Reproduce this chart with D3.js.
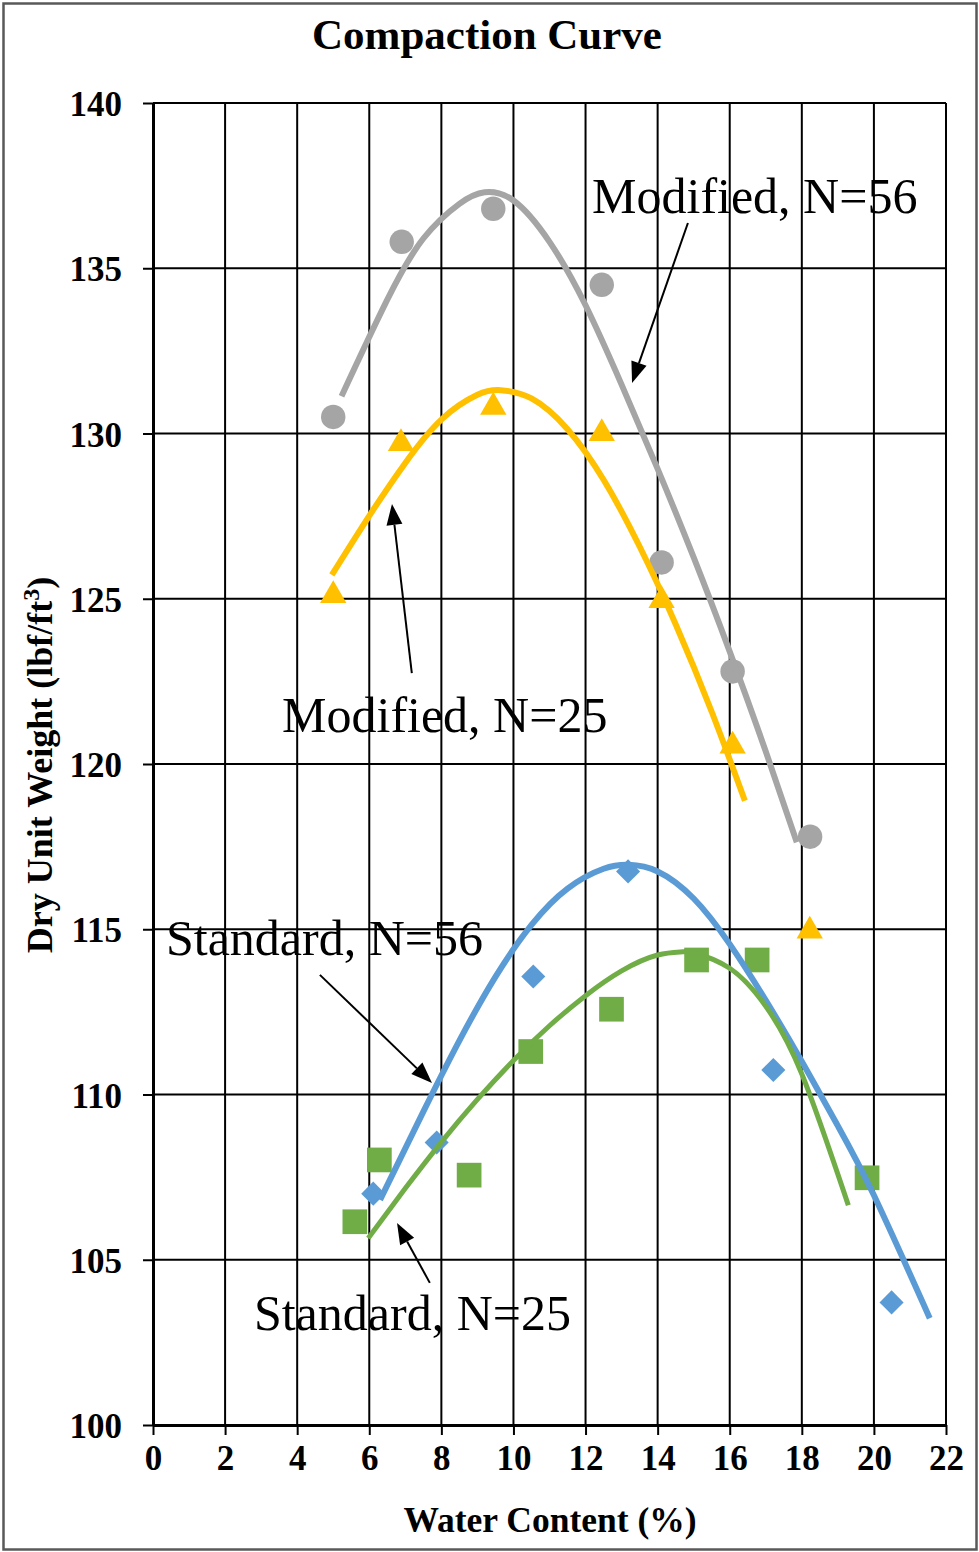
<!DOCTYPE html>
<html>
<head>
<meta charset="utf-8">
<script src="https://cdn.jsdelivr.net/npm/d3@7"></script>
<style>
  html, body { margin: 0; padding: 0; background: #fff; }
  svg { display: block; }
  text { font-family: "Liberation Serif", "Times New Roman", serif; fill: #000; }
</style>
</head>
<body>
<svg id="chart" width="979" height="1552"></svg>
<script>
// Axis ticks
const xTicks = [0, 2, 4, 6, 8, 10, 12, 14, 16, 18, 20, 22];
const yTicks = [100, 105, 110, 115, 120, 125, 130, 135, 140];

// Measured points: water content (%) and dry unit weight (lbf/ft3)
const modified56W = [5.0, 6.9, 9.44, 12.45, 14.11, 16.08, 18.23];
const modified56G = [130.5, 135.8, 136.8, 134.5, 126.1, 122.8, 117.8];

const modified25W = [5.0, 6.88, 9.44, 12.45, 14.11, 16.08, 18.22];
const modified25G = [125.1, 129.7, 130.8, 130.0, 124.95, 120.55, 114.95];

const standard56W = [6.11, 7.87, 10.55, 13.18, 17.21, 20.49];
const standard56G = [107.0, 108.55, 113.57, 116.75, 110.74, 103.71];

const standard25W = [5.6, 6.28, 8.77, 10.48, 12.72, 15.08, 16.76, 19.81];
const standard25G = [106.15, 108.02, 107.56, 111.3, 112.58, 114.07, 114.07, 107.48];

// Fitted compaction curves, sampled along each trend line
const fit56ModW = [5.23, 6.5, 7.5, 8.5, 9.2, 10, 11, 12, 13, 14, 15, 16, 17, 17.86];
const fit56ModG = [131.13, 134.05, 135.9, 136.95, 137.3, 137.05, 135.8, 133.88, 131.48, 128.93, 126.25, 123.4, 120.38, 117.63];

const fit25ModW = [4.96, 6, 7, 8, 9, 9.65, 10.5, 11.5, 12.5, 13.5, 14.5, 15.5, 16.42];
const fit25ModG = [125.72, 127.51, 129.11, 130.42, 131.17, 131.31, 131.06, 130.13, 128.6, 126.58, 124.23, 121.58, 118.89];

const fit56StdW = [6.3, 7.5, 8.5, 9.5, 10.5, 11.5, 12.5, 13.2, 14, 15, 16, 17, 18, 19, 20, 21.55];
const fit56StdG = [106.81, 109.48, 111.63, 113.56, 115.13, 116.23, 116.83, 116.95, 116.75, 115.93, 114.55, 112.85, 111.0, 109.05, 106.95, 103.23];

const fit25StdW = [5.97, 7, 8, 9, 10, 11, 12, 13, 14, 14.7, 15, 16, 17, 18, 19.29];
const fit25StdG = [105.65, 107.16, 108.56, 109.85, 111.03, 112.08, 112.99, 113.74, 114.22, 114.32, 114.29, 113.82, 112.67, 110.62, 106.65];

// Curve labels and their pointer arrows (data units)
const labelText = ["Modified, N=56", "Modified, N=25", "Standard, N=56", "Standard, N=25"];
const labelW = [12.18, 3.58, 0.36, 2.80];
const labelG = [136.67, 120.97, 114.22, 102.87];
const arrowFromW = [14.84, 7.18, 4.63, 7.68];
const arrowFromG = [136.37, 122.75, 113.62, 104.30];
const arrowToW = [13.29, 6.63, 7.74, 6.77];
const arrowToG = [131.53, 127.87, 110.35, 106.11];

const colors = { gray: "#A5A5A5", gold: "#FFC000", blue: "#5B9BD5", green: "#70AD47" };

const svg = d3.select("#chart");
const W = 979, H = 1552;

// Outer frame
svg.append("rect")
  .attr("x", 3.5).attr("y", 3.5).attr("width", W - 6).attr("height", H - 6)
  .attr("fill", "#fff").attr("stroke", "#595959").attr("stroke-width", 2.5);

const x = d3.scaleLinear().domain([0, 22]).range([153, 946]);
const y = d3.scaleLinear().domain([100, 140]).range([1425, 103]);

// Grid
const grid = svg.append("g");
grid.selectAll("line.v").data(xTicks).join("line")
  .attr("class", "v")
  .attr("x1", d => x(d)).attr("x2", d => x(d))
  .attr("y1", y(100)).attr("y2", y(140))
  .attr("stroke", "#000").attr("stroke-width", 2);
grid.selectAll("line.h").data(yTicks).join("line")
  .attr("class", "h")
  .attr("x1", x(0)).attr("x2", x(22))
  .attr("y1", d => y(d)).attr("y2", d => y(d))
  .attr("stroke", "#000").attr("stroke-width", 2);

// Markers
const zip = (a, b) => a.map((v, i) => [v, b[i]]);
function drawMarkers(ws, gs, type, size, color, rotate) {
  const sym = d3.symbol().type(type).size(size);
  svg.append("g").selectAll("path").data(zip(ws, gs)).join("path")
    .attr("d", sym)
    .attr("transform", d => `translate(${x(d[0])},${y(d[1])})` + (rotate ? ` rotate(${rotate})` : ""))
    .attr("fill", color);
}
drawMarkers(modified56W, modified56G, d3.symbolCircle, 470, colors.gray);
drawMarkers(modified25W, modified25G, d3.symbolTriangle, 300, colors.gold);
drawMarkers(standard56W, standard56G, d3.symbolSquare, 290, colors.blue, 45);
drawMarkers(standard25W, standard25G, d3.symbolSquare, 610, colors.green);

// Trend curves
const line = d3.line().x(d => x(d[0])).y(d => y(d[1])).curve(d3.curveNatural);
function drawCurve(ws, gs, color, width) {
  svg.append("path")
    .datum(zip(ws, gs))
    .attr("d", line)
    .attr("fill", "none")
    .attr("stroke", color)
    .attr("stroke-width", width);
}
drawCurve(fit56ModW, fit56ModG, colors.gray, 6);
drawCurve(fit25ModW, fit25ModG, colors.gold, 6);
drawCurve(fit56StdW, fit56StdG, colors.blue, 6);
drawCurve(fit25StdW, fit25StdG, colors.green, 5);

// Axes
const xAxis = d3.axisBottom(x).tickValues(xTicks).tickSize(10).tickSizeOuter(0).tickFormat(d3.format("d"));
const yAxis = d3.axisLeft(y).tickValues(yTicks).tickSize(10).tickSizeOuter(0).tickFormat(d3.format("d"));

const gx = svg.append("g").attr("transform", `translate(0,${y(100)})`).call(xAxis);
const gy = svg.append("g").attr("transform", `translate(${x(0)},0)`).call(yAxis);

[gx, gy].forEach(g => {
  g.select(".domain").attr("stroke", "#000").attr("stroke-width", 3);
  g.selectAll(".tick line").attr("stroke", "#000").attr("stroke-width", 2);
  g.selectAll(".tick text")
    .attr("font-family", "Liberation Serif, Times New Roman, serif")
    .attr("font-weight", "bold")
    .attr("font-size", 35)
    .attr("fill", "#000");
});
gx.selectAll(".tick text").attr("y", 20).attr("dy", "0.71em");
gy.selectAll(".tick text").attr("x", -31).attr("dy", "0.36em");

// Title
svg.append("text")
  .attr("x", 487).attr("y", 49)
  .attr("text-anchor", "middle")
  .attr("font-weight", "bold").attr("font-size", 43)
  .text("Compaction Curve");

// Axis titles
svg.append("text")
  .attr("x", 550).attr("y", 1532)
  .attr("text-anchor", "middle")
  .attr("font-weight", "bold").attr("font-size", 35.5)
  .text("Water Content (%)");

const yt = svg.append("text")
  .attr("transform", "translate(52,765) rotate(-90)")
  .attr("text-anchor", "middle")
  .attr("font-weight", "bold").attr("font-size", 36);
yt.append("tspan").text("Dry Unit Weight (lbf/ft");
yt.append("tspan").attr("font-size", 24).attr("dy", -13).text("3");
yt.append("tspan").attr("dy", 13).text(")");

// Curve labels
labelText.forEach((t, i) => {
  svg.append("text")
    .attr("x", x(labelW[i])).attr("y", y(labelG[i]))
    .attr("font-size", 50)
    .text(t);
});

// Pointer arrows
labelText.forEach((t, i) => {
  const x1 = x(arrowFromW[i]), y1 = y(arrowFromG[i]);
  const x2 = x(arrowToW[i]), y2 = y(arrowToG[i]);
  const ang = Math.atan2(y2 - y1, x2 - x1);
  const len = 21, half = 8;
  const bx = x2 - len * Math.cos(ang), by = y2 - len * Math.sin(ang);
  svg.append("line")
    .attr("x1", x1).attr("y1", y1).attr("x2", bx).attr("y2", by)
    .attr("stroke", "#000").attr("stroke-width", 2);
  const px = -Math.sin(ang), py = Math.cos(ang);
  svg.append("path")
    .attr("d", `M${x2},${y2}L${bx + half * px},${by + half * py}L${bx - half * px},${by - half * py}Z`)
    .attr("fill", "#000");
});
</script>
</body>
</html>
